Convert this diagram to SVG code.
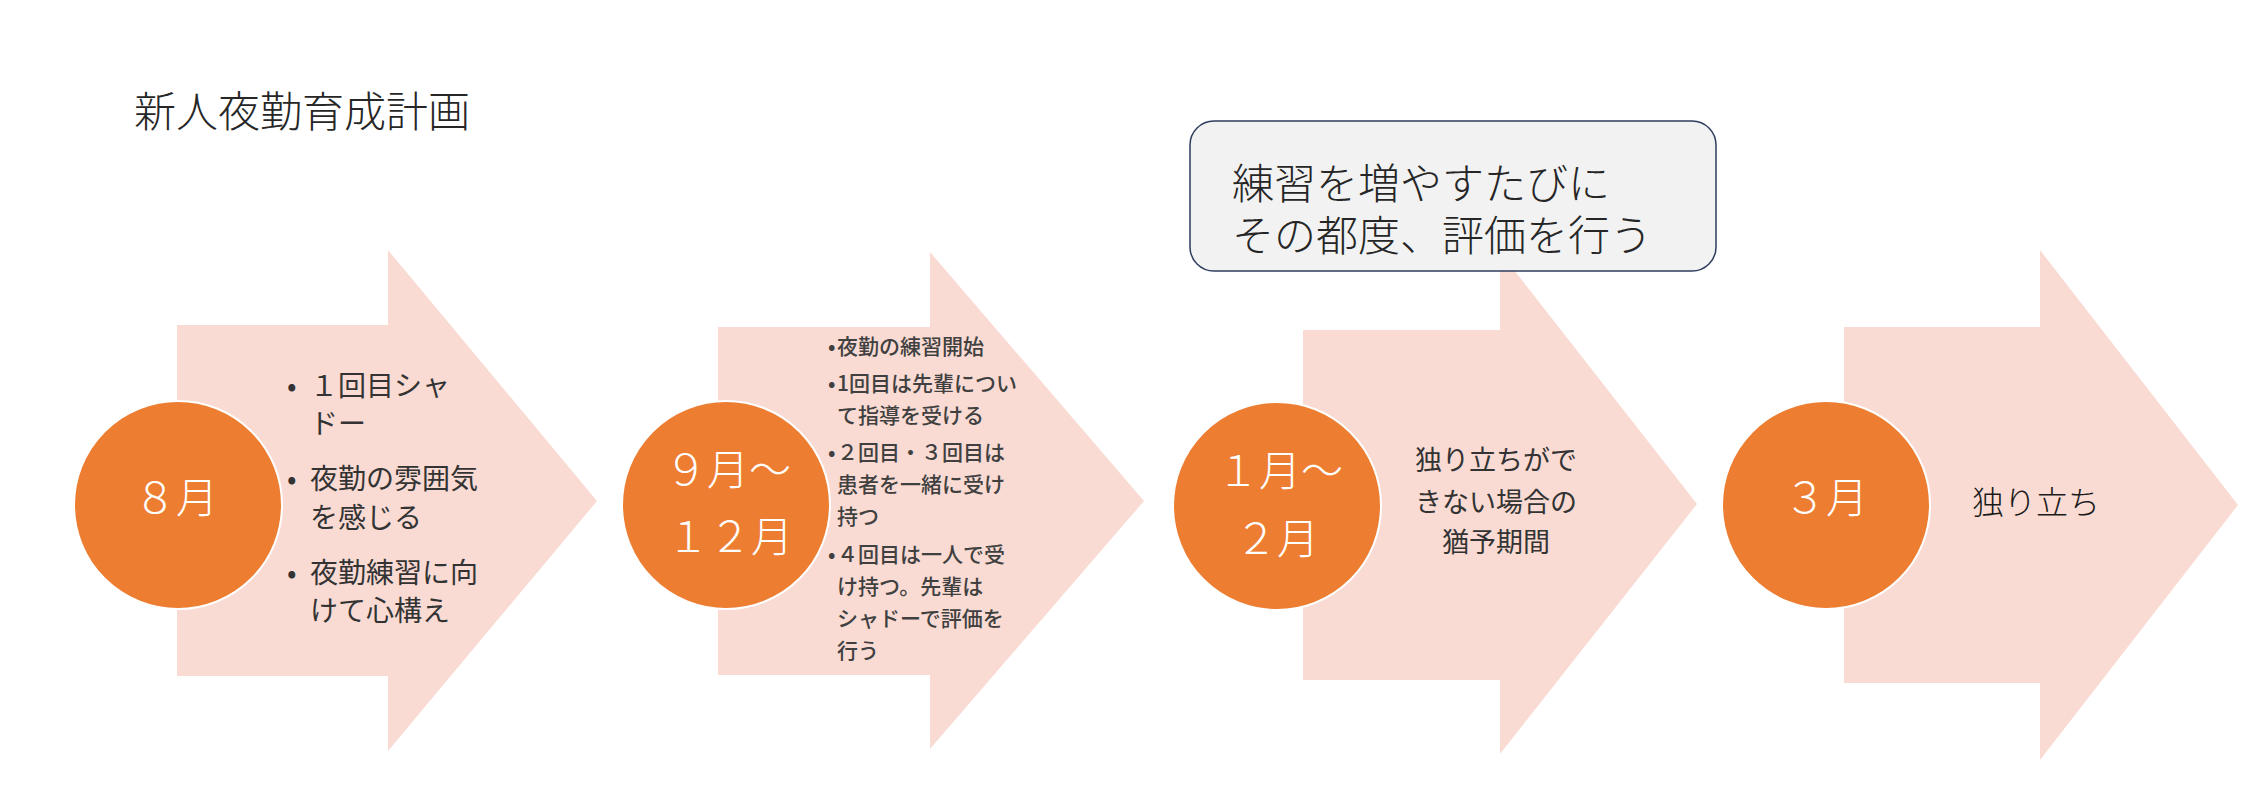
<svg xmlns="http://www.w3.org/2000/svg" width="2268" height="808" viewBox="0 0 2268 808">
<style>
.arrow{fill:#f9dbd3;}
.circ{fill:#ed7d31;stroke:#ffffff;stroke-width:2;}
.ct{font-family:"Noto Sans CJK JP","Noto Sans",sans-serif;font-weight:300;font-size:42px;fill:#ffffff;text-anchor:middle;}
.t1{font-family:"Noto Sans CJK JP","Noto Sans",sans-serif;font-weight:400;font-size:28px;fill:#333333;}
.t2{font-family:"Noto Sans CJK JP","Noto Sans",sans-serif;font-weight:500;font-size:21px;fill:#404040;}
.t3{font-family:"Noto Sans CJK JP","Noto Sans",sans-serif;font-weight:400;font-size:27px;fill:#333333;text-anchor:middle;}
.t4{font-family:"Noto Sans CJK JP","Noto Sans",sans-serif;font-weight:300;font-size:32px;fill:#1a1a1a;}
.title{font-family:"Noto Sans CJK JP","Noto Sans",sans-serif;font-weight:300;font-size:42px;fill:#262626;}
.call{fill:#f2f2f2;stroke:#2f3d5f;stroke-width:1.5;}
</style>
<rect width="2268" height="808" fill="#ffffff"/>
<text id="title" class="title" x="134" y="127">新人夜勤育成計画</text>

<g id="connectors"></g>

<g id="step1">
  <polygon class="arrow" points="177,325 388,325 388,250 597,501 388,751 388,676 177,676"/>
  <circle class="circ" cx="178" cy="505" r="104"/>
  <text class="ct" x="176" y="513">８月</text>
  <g class="t1">
    <text x="287" y="396">•</text><text x="310" y="396">１回目シャ</text>
    <text x="310" y="434">ドー</text>
    <text x="287" y="489">•</text><text x="310" y="489">夜勤の雰囲気</text>
    <text x="310" y="528">を感じる</text>
    <text x="287" y="583">•</text><text x="310" y="583">夜勤練習に向</text>
    <text x="310" y="621">けて心構え</text>
  </g>
</g>

<g id="step2">
  <polygon class="arrow" points="718,327 930,327 930,252 1144,501 930,749 930,675 718,675"/>
  <circle class="circ" cx="726" cy="505" r="104"/>
  <text class="ct" x="728" y="485">９月～</text>
  <text class="ct" x="730" y="552">１２月</text>
  <g class="t2">
    <text x="828" y="354">•</text><text x="837" y="354">夜勤の練習開始</text>
    <text x="828" y="391">•</text><text x="837" y="391">1回目は先輩につい</text>
    <text x="837" y="423">て指導を受ける</text>
    <text x="828" y="460">•</text><text x="837" y="460">２回目・３回目は</text>
    <text x="837" y="492">患者を一緒に受け</text>
    <text x="837" y="524">持つ</text>
    <text x="828" y="562">•</text><text x="837" y="562">４回目は一人で受</text>
    <text x="837" y="594">け持つ。先輩は</text>
    <text x="837" y="626">シャドーで評価を</text>
    <text x="837" y="658">行う</text>
  </g>
</g>

<g id="step3">
  <polygon class="arrow" points="1303,330 1500,330 1500,252 1697,504 1500,754 1500,680 1303,680"/>
  <circle class="circ" cx="1277" cy="506" r="104"/>
  <text class="ct" x="1280" y="486">１月～</text>
  <text class="ct" x="1277" y="554">２月</text>
  <text class="t3" x="1496" y="470">独り立ちがで</text>
  <text class="t3" x="1496" y="512">きない場合の</text>
  <text class="t3" x="1496" y="552">猶予期間</text>
</g>

<g id="step4">
  <polygon class="arrow" points="1844,327 2040,327 2040,250 2238,505 2040,760 2040,683 1844,683"/>
  <circle class="circ" cx="1826" cy="505" r="104"/>
  <text class="ct" x="1826" y="513">３月</text>
  <text class="t4" x="1972" y="514">独り立ち</text>
</g>

<g id="callout">
  <rect class="call" x="1190" y="121" width="526" height="150" rx="24" ry="24"/>
  <text class="title" x="1232" y="199">練習を増やすたびに</text>
  <text class="title" x="1232" y="251">その都度、評価を行う</text>
</g>
</svg>
